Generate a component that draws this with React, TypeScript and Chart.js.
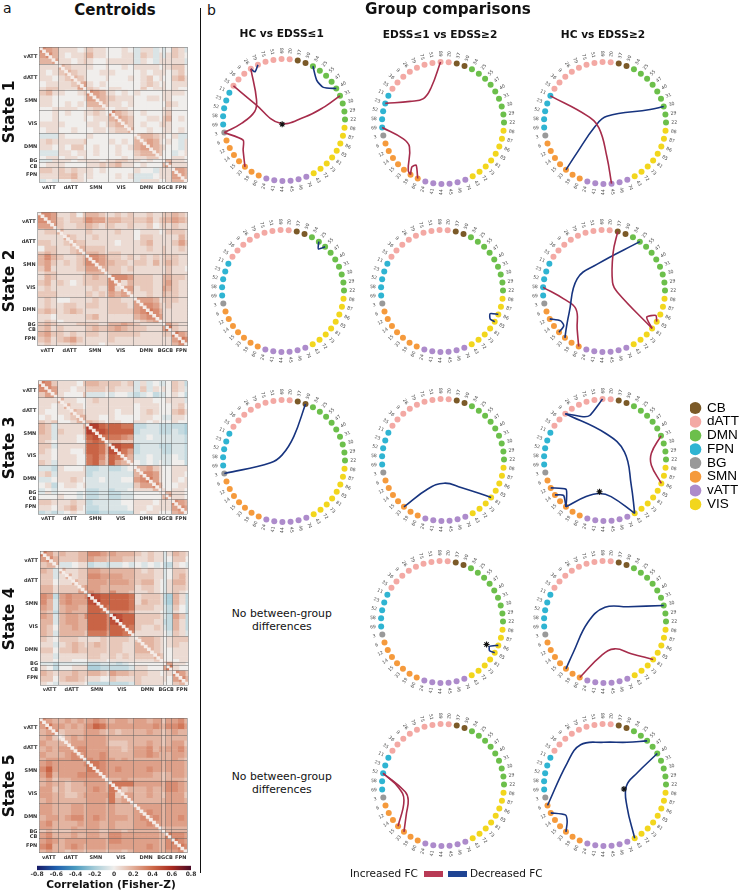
import React, { useEffect, useRef } from "react";
import { Chart, registerables } from "chart.js";

Chart.register(...registerables);

// ---------- node tables ----------
const nodeLabels = ["37","50","34","25","55","47","40","31","30","29","22","88","87","86","85","81","73","72","43","74","46","45","44","41","24","60","39","33","15","14","12","6","3","69","58","52","23","11","35","36","9","26","79","75","51","89","20"];
const nodeNets = ["CB","CB","DMN","DMN","DMN","DMN","DMN","DMN","DMN","DMN","DMN","VIS","VIS","VIS","VIS","VIS","VIS","VIS","VIS","vATT","vATT","vATT","vATT","vATT","vATT","SMN","SMN","SMN","SMN","SMN","SMN","SMN","BG","FPN","FPN","FPN","FPN","FPN","dATT","dATT","dATT","dATT","dATT","dATT","dATT","dATT","dATT"];
const legendNames = ["CB","dATT","DMN","FPN","BG","SMN","vATT","VIS"];
const legendColors = ["#7b5a28","#f3a9a4","#6cbf4b","#2fb4d2","#999999","#f59a3c","#ad8bcb","#f2d61d"];
const RED = "#a62c4b";
const BLUE = "#17347f";

// ---------- chords: from node, to node, waypoints in circle units (x right, y up) ----------
const r1c1 = [
  { a: 41, b: 32, k: "up", via: [[-0.45, 0.33], [-0.48, 0.14], [-0.69, -0.05]] },
  { a: 38, b: 7, k: "up", via: [[-0.48, 0.27], [-0.07, -0.05], [0.34, 0.05], [0.67, 0.22]] },
  { a: 32, b: 27, k: "up", via: [[-0.67, -0.33], [-0.67, -0.49]] },
  { a: 41, b: 42, k: "down", via: [[-0.475, 0.79]] },
  { a: 2, b: 6, k: "down", via: [[0.535, 0.655], [0.645, 0.535]] },
];
const r1c2 = [
  { a: 45, b: 36, k: "up", via: [[-0.19, 0.59], [-0.32, 0.4], [-0.54, 0.355]] },
  { a: 33, b: 26, k: "up", via: [[-0.65, -0.26], [-0.55, -0.39], [-0.57, -0.78]] },
  { a: 26, b: 25, k: "up", via: [[-0.51, -0.72], [-0.44, -0.69]] },
];
const r1c3 = [
  { a: 37, b: 21, k: "up", via: [[-0.295, 0.12], [-0.1, -0.08], [0.03, -0.55]] },
  { a: 8, b: 27, k: "down", via: [[0.74, 0.22], [0.03, 0.11], [-0.16, -0.055], [-0.46, -0.49]] },
];
const r2c1 = [{ a: 3, b: 4, k: "down", via: [[0.58, 0.69]] }];
const r2c2 = [{ a: 13, b: 14, k: "down", via: [[0.79, -0.37], [0.79, -0.46]] }];
const r2c3 = [
  { a: 0, b: 15, k: "up", via: [[0.15, 0.63], [0.14, 0.14], [0.22, -0.02]] },
  { a: 15, b: 14, k: "up", via: [[0.7, -0.43], [0.85, -0.4]] },
  { a: 3, b: 27, k: "down", via: [[-0.11, 0.44], [-0.44, 0.2], [-0.57, -0.35], [-0.62, -0.62]] },
  { a: 30, b: 28, k: "down", via: [[-0.71, -0.49], [-0.66, -0.57]] },
  { a: 34, b: 25, k: "up", via: [[-0.66, -0.13], [-0.46, -0.295], [-0.44, -0.62]] },
];
const r3c1 = [{ a: 1, b: 32, k: "down", via: [[0.16, 0.4], [-0.03, 0.1], [-0.22, -0.03]] }];
const r3c2 = [{ a: 27, b: 15, k: "down", via: [[-0.25, -0.475], [0.02, -0.38], [0.295, -0.45]] }];
const r3c3 = [
  { a: 40, b: 45, k: "down", via: [[-0.36, 0.71], [-0.25, 0.73]] },
  { a: 40, b: 18, k: "down", via: [[0.02, 0.43], [0.32, 0.13], [0.43, -0.41]] },
  { a: 18, b: 27, k: "down", via: [[0.1, -0.6], [-0.09, -0.55], [-0.31, -0.6]] },
  { a: 7, b: 13, k: "up", via: [[0.76, 0.11], [0.76, -0.085]] },
  { a: 30, b: 27, k: "down", via: [[-0.64, -0.48], [-0.63, -0.63]] },
  { a: 29, b: 27, k: "down", via: [[-0.68, -0.58]] },
];
const r4c2 = [{ a: 13, b: 14, k: "down", via: [[0.78, -0.4], [0.78, -0.47]] }];
const r4c3 = [
  { a: 8, b: 27, k: "down", via: [[0.38, 0.25], [0, 0.24], [-0.28, -0.005], [-0.52, -0.5]] },
  { a: 15, b: 25, k: "up", via: [[0.43, -0.52], [0.16, -0.44], [-0.06, -0.55]] },
];
const r5c2 = [
  { a: 35, b: 28, k: "up", via: [[-0.73, -0.04], [-0.64, -0.25]] },
  { a: 35, b: 27, k: "up", via: [[-0.62, -0.11], [-0.57, -0.25], [-0.6, -0.47]] },
];
const r5c3 = [
  { a: 31, b: 4, k: "down", via: [[-0.62, 0.36], [-0.4, 0.66], [-0.02, 0.7], [0.36, 0.7]] },
  { a: 6, b: 18, k: "down", via: [[0.53, 0.2], [0.35, -0.02], [0.36, -0.35]] },
  { a: 30, b: 27, k: "down", via: [[-0.65, -0.49], [-0.62, -0.6]] },
];

// ---------- heat maps: upper triangles of coded levels, per group of nodes ----------
// vATT(3) dATT(5) SMN(4) VIS(4) DMN(5) BG(1) CB(1) FPN(3), each row starting on the diagonal
const binSizes = [2,2,2, 2,2,2,2,1, 2,2,2,1, 2,2,2,2, 2,2,2,2,1, 1, 2, 2,2,1];
const levelChars = "wxyz0123456789AB";
const levelValues = [-0.26,-0.18,-0.12,-0.06,0,0.06,0.12,0.18,0.24,0.3,0.36,0.42,0.48,0.54,0.62,0.7];

const state1 = [
  "543 11101 2110 0010 z11z0 z 0 21z",
  "53 10112 3110 0011 z21z1 z 1 210",
  "4 11012 1001 1111 z10z1 1 1 11z",
  "32111 1001 0010 11110 1 1 220",
  "3211 0011 1000 01011 1 0 120",
  "321 0001 0001 01201 0 0 231",
  "34 1010 0000 01210 1 0 111",
  "5 2100 1100 02011 1 0 100",
  "5431 1010 10000 1 1 110",
  "432 2111 00110 1 1 000",
  "32 1101 00000 0 2 100",
  "3 0110 00000 1 1 000",
  "5321 01000 1 2 000",
  "432 00110 2 3 010",
  "32 01001 2 1 000",
  "3 00100 1 1 010",
  "23321 1 0 1zz",
  "3431 0 1 0z1",
  "432 1 0 0z1",
  "32 0 0 z01",
  "2 0 0 110",
  "5 3 110",
  "4 111",
  "443",
  "43",
  "3",
];
const state2 = [
  "554 11202 3321 1212 11211 2 2 321",
  "54 21223 5442 3322 22312 3 3 432",
  "4 21122 3212 2112 11201 2 1 211",
  "31111 2111 1211 01110 1 2 221",
  "3211 1211 1111 02211 1 1 131",
  "322 1111 1011 12311 1 1 242",
  "33 2221 1111 11211 2 1 121",
  "4 3321 2211 11111 2 1 111",
  "5543 2212 12121 2 2 211",
  "543 3221 22131 2 3 211",
  "33 2212 11111 1 2 110",
  "3 2211 11111 1 2 111",
  "5554 22211 3 3 221",
  "413 22211 3 4 211",
  "44 12211 4 3 211",
  "3 11211 3 2 211",
  "44431 2 2 211",
  "5542 1 2 111",
  "653 1 1 111",
  "54 1 1 111",
  "3 1 1 111",
  "6 4 211",
  "6 211",
  "643",
  "65",
  "3",
];
const state3 = [
  "652 11102 3322 2212 z1z0z z 0 21y",
  "54 11011 2221 2111 z2z10 1 0 21z",
  "4 10002 zzz0 z00z yz0yz z 0 10y",
  "31100 1211 1111 11100 0 1 11z",
  "3110 1111 1111 01110 0 0 120",
  "321 1111 1011 01210 0 0 231",
  "33 1100 1000 01100 z z 110",
  "4 3210 1100 11010 0 0 100",
  "9976 7766 yyzzy y y yyx",
  "887 7777 yzzzy y y zyx",
  "66 6654 zz0zz z z zzy",
  "4 3322 zzzzz z z zzy",
  "8877 yzzzy y y zzy",
  "864 yzzzz y y zzy",
  "53 zz0zz z z 0zy",
  "3 0z0z0 z z 00y",
  "33421 0 0 111",
  "5541 0 0 110",
  "641 0 0 101",
  "53 0 0 011",
  "3 1 0 110",
  "5 3 110",
  "4 110",
  "543",
  "54",
  "3",
];
const state4 = [
  "642 32233 5543 4333 21211 z 1 321",
  "53 22233 4332 3322 11211 z 0 220",
  "3 zz011 yzzy zz0z 0z0z0 y y 10z",
  "31122 4433 3333 21211 z 0 221",
  "3122 5544 4433 22211 z 0 231",
  "322 4443 4443 23310 z 1 331",
  "34 4433 3333 12210 z 1 221",
  "5 5433 5332 11210 z 1 210",
  "9877 7776 12221 y x 31y",
  "977 7776 13221 y x 31y",
  "76 7776 22211 z y 20y",
  "5 5554 11110 z y 10y",
  "9877 22221 z y 42y",
  "977 22211 y y 31y",
  "76 21121 z y 31y",
  "5 11111 0 z 21z",
  "23321 0 1 222",
  "3321 0 1 211",
  "321 0 0 111",
  "32 0 0 111",
  "2 0 0 011",
  "6 4 110",
  "6 100",
  "542",
  "53",
  "3",
];
const state5 = [
  "543 34343 4543 3443 44344 2 4 453",
  "64 43434 5764 4444 44454 3 5 564",
  "5 23334 4432 3233 33433 2 3 433",
  "13434 4443 3333 33333 2 3 333",
  "3444 4443 2223 33433 2 3 442",
  "455 4444 3323 44534 3 4 453",
  "45 4454 3333 44543 3 3 443",
  "5 5454 4343 33333 3 3 432",
  "6654 4444 44444 3 4 443",
  "654 4544 44544 3 4 443",
  "54 4444 44433 2 3 443",
  "4 3343 33333 2 3 332",
  "6666 44444 3 5 543",
  "523 33433 3 5 543",
  "44 33433 2 4 442",
  "4 33333 3 4 443",
  "44444 3 4 444",
  "4544 3 4 444",
  "454 3 4 454",
  "44 3 4 444",
  "3 2 3 333",
  "6 3 333",
  "6 554",
  "654",
  "65",
  "3",
];
const stateTables = [state1, state2, state3, state4, state5];

// colour bar stops
const cmapValues = [-0.8,-0.6,-0.4,-0.2,0,0.2,0.4,0.6,0.8];
const cmapColors = ["#171a66","#1f5fae","#4a9abf","#a6ccd8","#f0eeec","#e2ae99","#cd6a4a","#a82a20","#4a0a26"];
const cbTicks = [-0.8,-0.6,-0.4,-0.2,0,0.2,0.4,0.6,0.8];

// axis labels of each map: node position -> text
const xAxisNames = { 3: "vATT", 10: "dATT", 18: "SMN", 26: "VIS", 34: "DMN", 40: "BGCB", 45: "FPN" };
const yAxisNames = { 3: "vATT", 10: "dATT", 18: "SMN", 26: "VIS", 34: "DMN", 39: "BG", 41: "CB", 44: "FPN" };
const netBreaks = [0, 6, 15, 22, 30, 39, 40, 42, 47];

// ---------- layout ----------
const heatBoxes = [
  { l: 39.3, r: 187.3, t: 44.3, b: 182.3 },
  { l: 37.7, r: 187.7, t: 209, b: 345.7 },
  { l: 38.3, r: 187.3, t: 378.3, b: 514 },
  { l: 40, r: 188.3, t: 548.3, b: 685 },
  { l: 39.3, r: 187, t: 715.7, b: 852.7 },
];
const rings = [
  { cx: 284, cy: 120, chords: r1c1, stars: [[-0.03, -0.07]] },
  { cx: 443, cy: 122.7, chords: r1c2, stars: [] },
  { cx: 604.7, cy: 123.3, chords: r1c3, stars: [] },
  { cx: 283.2, cy: 290.8, chords: r2c1, stars: [] },
  { cx: 442.2, cy: 291.1, chords: r2c2, stars: [] },
  { cx: 604.3, cy: 290.8, chords: r2c3, stars: [] },
  { cx: 283.8, cy: 460.7, chords: r3c1, stars: [] },
  { cx: 442.5, cy: 460.4, chords: r3c2, stars: [] },
  { cx: 605, cy: 460.4, chords: r3c3, stars: [[-0.09, -0.52]] },
  { cx: 442.2, cy: 621.7, chords: r4c2, stars: [[0.73, -0.37]] },
  { cx: 604.7, cy: 621.6, chords: r4c3, stars: [] },
  { cx: 442.7, cy: 784.8, chords: r5c2, stars: [] },
  { cx: 604.5, cy: 785.3, chords: r5c3, stars: [[0.31, -0.065]] },
];
const RING_PX = 61;
const RING_BOX = 170;

const FONT = "'DejaVu Sans', sans-serif";

// ---------- helpers ----------
function hexToRgb(h: string) {
  return [parseInt(h.slice(1, 3), 16), parseInt(h.slice(3, 5), 16), parseInt(h.slice(5, 7), 16)];
}
function colourOf(v: number) {
  const n = cmapValues.length;
  if (v <= cmapValues[0]) return cmapColors[0];
  if (v >= cmapValues[n - 1]) return cmapColors[n - 1];
  let i = 0;
  while (v > cmapValues[i + 1]) i++;
  const t = (v - cmapValues[i]) / (cmapValues[i + 1] - cmapValues[i]);
  const a = hexToRgb(cmapColors[i]);
  const b = hexToRgb(cmapColors[i + 1]);
  return `rgb(${a.map((c, k) => Math.round(c + (b[k] - c) * t)).join(",")})`;
}
function nodeTheta(i: number) {
  return 13 + (360 / nodeLabels.length) * i;
}
function polar(i: number, r: number) {
  const t = (nodeTheta(i) * Math.PI) / 180;
  return { x: r * Math.sin(t), y: r * Math.cos(t) };
}
function binMatrix(table: string[]) {
  const n = binSizes.length;
  const m: number[][] = Array.from({ length: n }, () => new Array(n).fill(0.06));
  for (let i = 0; i < n; i++) {
    const row = (table[i] || "").replace(/ /g, "");
    for (let j = i; j < n; j++) {
      const idx = levelChars.indexOf(row[j - i] ?? "1");
      const v = levelValues[idx < 0 ? 5 : idx];
      m[i][j] = v;
      m[j][i] = v;
    }
  }
  return m;
}

function useChart(make: (c: HTMLCanvasElement) => Chart) {
  const ref = useRef<HTMLCanvasElement>(null);
  useEffect(() => {
    const ch = make(ref.current!);
    return () => ch.destroy();
  }, []);
  return ref;
}

// ---------- heat map ----------
function Heat({ index }: { index: number }) {
  const box = heatBoxes[index];
  const W = 198;
  const top = Math.floor(box.t) - 2;
  const H = Math.ceil(box.b) + 14 - top;
  const ref = useChart((canvas) => {
    const m = binMatrix(stateTables[index]);
    const total = binSizes.reduce((a, b) => a + b, 0);
    const rowBin: number[] = [];
    binSizes.forEach((s, b) => { for (let k = 0; k < s; k++) rowBin.push(b); });
    const labels = rowBin.map((_, i) => String(i));
    let start = 0;
    const datasets: any[] = binSizes.map((s, col) => {
      const x0 = start;
      start += s;
      return {
        data: rowBin.map(() => [x0, x0 + s]),
        backgroundColor: rowBin.map((b) => colourOf(m[b][col])),
        borderWidth: 0,
        grouped: false,
        barPercentage: 1,
        categoryPercentage: 1,
        order: 2,
      };
    });
    datasets.push({
      data: rowBin.map((_, i) => [i, i + 1]),
      backgroundColor: "#f5ece8",
      borderWidth: 0,
      grouped: false,
      barPercentage: 1,
      categoryPercentage: 1,
      order: 1,
    });
    const tickFont = { family: FONT, size: 5, weight: "bold" as const };
    return new Chart(canvas, {
      type: "bar",
      data: { labels, datasets },
      options: {
        indexAxis: "y",
        animation: false,
        responsive: false,
        layout: { padding: { top: box.t - top, right: W - box.r, bottom: 0, left: 0 } },
        plugins: { legend: { display: false }, tooltip: { enabled: false } },
        scales: {
          x: {
            type: "linear",
            min: 0,
            max: total,
            afterFit: (s: any) => { s.height = H - (box.b - top); },
            border: { display: false },
            grid: {
              z: 1,
              drawTicks: false,
              lineWidth: 0.8,
              color: (c: any) => (netBreaks.includes(c.tick?.value) ? "rgba(95,95,95,0.6)" : "rgba(0,0,0,0)"),
            },
            ticks: {
              stepSize: 1,
              autoSkip: false,
              maxRotation: 0,
              padding: 2,
              color: "#333",
              font: tickFont,
              callback: (v: any) => (xAxisNames as any)[v] ?? "",
            },
          },
          y: {
            type: "category",
            afterFit: (s: any) => { s.width = box.l; },
            border: { display: false },
            grid: {
              z: 1,
              drawTicks: false,
              lineWidth: 0.8,
              color: (c: any) => {
                const i = c.index === undefined ? total : c.index;
                return netBreaks.includes(i) ? "rgba(95,95,95,0.6)" : "rgba(0,0,0,0)";
              },
            },
            ticks: {
              autoSkip: false,
              padding: 2,
              color: "#333",
              font: tickFont,
              callback: (_v: any, i: number) => (yAxisNames as any)[i] ?? "",
            },
          },
        },
      },
    } as any);
  });
  return <canvas ref={ref} width={W} height={H} style={{ position: "absolute", left: 0, top, width: W, height: H }} />;
}

// ---------- ring ----------
const ringLabelPlugin = {
  id: "ringLabels",
  afterDatasetsDraw(chart: any) {
    const ds = chart.data.datasets[1];
    const meta = chart.getDatasetMeta(1);
    const ctx = chart.ctx;
    ctx.save();
    ctx.font = `4.6px ${FONT}`;
    ctx.fillStyle = "#4a4a4a";
    ctx.textAlign = "center";
    ctx.textBaseline = "middle";
    meta.data.forEach((pt: any, i: number) => {
      const theta = ((ds.data[i].theta % 360) + 360) % 360;
      const rot = theta < 180 ? theta - 90 : theta + 90;
      ctx.save();
      ctx.translate(pt.x, pt.y);
      ctx.rotate((rot * Math.PI) / 180);
      ctx.fillText(ds.data[i].label, 0, 0);
      ctx.restore();
    });
    ctx.restore();
  },
};

function Ring({ spec }: { spec: (typeof rings)[number] }) {
  const range = RING_BOX / 2 / RING_PX;
  const ref = useChart((canvas) => {
    const colorOf = (n: string) => legendColors[legendNames.indexOf(n)];
    const datasets: any[] = [
      {
        data: nodeLabels.map((_, i) => polar(i, 1)),
        backgroundColor: nodeNets.map(colorOf),
        pointRadius: 3,
        pointBorderWidth: 0,
        order: 5,
      },
      {
        data: nodeLabels.map((l, i) => ({ ...polar(i, 1.135), label: l, theta: nodeTheta(i) })),
        pointRadius: 0,
        order: 6,
      },
    ];
    (spec.chords as any[]).forEach((c) => {
      const pa = polar(c.a, 1);
      const pb = polar(c.b, 1);
      const pts = [pa, ...c.via.map(([x, y]: number[]) => ({ x, y })), pb];
      const short = Math.hypot(pa.x - pb.x, pa.y - pb.y) < 0.7;
      datasets.push({
        data: pts,
        showLine: true,
        tension: short ? 0.22 : 0.42,
        borderColor: c.k === "up" ? RED : BLUE,
        borderWidth: 1.6,
        pointRadius: 0,
        fill: false,
        order: 2,
      });
    });
    if (spec.stars.length) {
      datasets.push({
        data: spec.stars.map(([x, y]) => ({ x, y })),
        pointStyle: "star",
        pointRadius: 3,
        pointBorderColor: "#111",
        pointBorderWidth: 1.1,
        order: 1,
      });
    }
    return new Chart(canvas, {
      type: "scatter",
      data: { datasets },
      plugins: [ringLabelPlugin],
      options: {
        animation: false,
        responsive: false,
        layout: { autoPadding: false, padding: 0 },
        plugins: { legend: { display: false }, tooltip: { enabled: false } },
        scales: {
          x: { type: "linear", min: -range, max: range, display: false },
          y: { type: "linear", min: -range, max: range, display: false },
        },
      },
    } as any);
  });
  return (
    <canvas
      ref={ref}
      width={RING_BOX}
      height={RING_BOX}
      style={{ position: "absolute", left: spec.cx - RING_BOX / 2, top: spec.cy - RING_BOX / 2, width: RING_BOX, height: RING_BOX }}
    />
  );
}

// ---------- colour bar ----------
function ColorBar() {
  const ref = useChart((canvas) =>
    new Chart(canvas, {
      type: "bar",
      data: {
        labels: ["Correlation"],
        datasets: [
          {
            data: [[cmapValues[0], cmapValues[cmapValues.length - 1]]],
            barPercentage: 1,
            categoryPercentage: 1,
            borderWidth: 0,
            backgroundColor: (c: any) => {
              const a = c.chart.chartArea;
              if (!a) return "#ccc";
              const g = c.chart.ctx.createLinearGradient(a.left, 0, a.right, 0);
              cmapValues.forEach((v, i) => g.addColorStop((v - cmapValues[0]) / (cmapValues[cmapValues.length - 1] - cmapValues[0]), cmapColors[i]));
              return g;
            },
          },
        ],
      },
      options: {
        indexAxis: "y",
        animation: false,
        responsive: false,
        layout: { padding: { left: 37, right: 9, top: 3.7, bottom: 0 } },
        plugins: { legend: { display: false }, tooltip: { enabled: false } },
        scales: {
          y: { display: false },
          x: {
            type: "linear",
            min: -0.8,
            max: 0.8,
            afterBuildTicks: (s: any) => { s.ticks = cbTicks.map((value) => ({ value })); },
            afterFit: (s: any) => { s.height = 23.8; },
            border: { display: false },
            grid: { display: false, drawTicks: false },
            ticks: {
              autoSkip: false,
              maxRotation: 0,
              padding: 1,
              color: "#333",
              font: { family: FONT, size: 6, weight: "bold" },
              callback: (v: any) => (Math.abs(v) < 1e-9 ? "0" : Number(v).toFixed(1)),
            },
          },
        },
      },
    } as any)
  );
  return <canvas ref={ref} width={200} height={32} style={{ position: "absolute", left: 0, top: 862, width: 200, height: 32 }} />;
}

// ---------- network legend ----------
function NetLegend() {
  const ref = useChart((canvas) =>
    new Chart(canvas, {
      type: "scatter",
      data: { datasets: [{ data: [] }] },
      options: {
        animation: false,
        responsive: false,
        layout: { padding: 0 },
        scales: { x: { display: false }, y: { display: false } },
        plugins: {
          tooltip: { enabled: false },
          legend: {
            display: true,
            position: "left",
            align: "start",
            onClick: null,
            labels: {
              usePointStyle: true,
              boxWidth: 10,
              boxHeight: 8.6,
              padding: 0.25,
              color: "#111",
              font: { family: "'Liberation Sans', sans-serif", size: 13.5 },
              generateLabels: () =>
                legendNames.map((text, i) => ({
                  text,
                  fillStyle: legendColors[i],
                  strokeStyle: legendColors[i],
                  lineWidth: 0,
                  pointStyle: "circle",
                  hidden: false,
                  datasetIndex: 0,
                })),
            },
          },
        },
      },
    } as any)
  );
  return <canvas ref={ref} width={120} height={122} style={{ position: "absolute", left: 690, top: 401, width: 120, height: 122 }} />;
}

// ---------- text ----------
function T({ x, y, size, bold, children, center, rotate, font, color }: any) {
  return (
    <div
      style={{
        position: "absolute",
        left: x,
        top: y,
        transform: `translate(${center ? "-50%" : "0"},-50%)${rotate ? ` rotate(${rotate}deg)` : ""}`,
        fontFamily: font || FONT,
        fontSize: size,
        fontWeight: bold ? 700 : 400,
        color: color || "#111",
        whiteSpace: "nowrap",
        lineHeight: 1,
      }}
    >
      {children}
    </div>
  );
}

export default function App() {
  return (
    <div style={{ position: "absolute", left: 0, top: 0, width: 744, height: 894, background: "#fff", overflow: "hidden" }}>
      {heatBoxes.map((_, i) => <Heat key={i} index={i} />)}
      {rings.map((r, i) => <Ring key={i} spec={r} />)}
      <ColorBar />
      <NetLegend />

      <div style={{ position: "absolute", left: 199.5, top: 8, width: 1, height: 865, background: "#111" }} />

      <T x={3} y={8} size={14}>a</T>
      <T x={207} y={10} size={14}>b</T>
      <T x={115} y={10} size={15} bold center>Centroids</T>
      <T x={448} y={9.5} size={15.2} bold center>Group comparisons</T>
      <T x={281.7} y={33} size={10.6} bold center>HC vs EDSS≤1</T>
      <T x={440} y={34} size={10.6} bold center>EDSS≤1 vs EDSS≥2</T>
      <T x={603} y={34} size={10.6} bold center>HC vs EDSS≥2</T>

      <T x={10} y={112} size={15.4} bold center rotate={-90}>State 1</T>
      <T x={10} y={281} size={15.4} bold center rotate={-90}>State 2</T>
      <T x={10} y={448} size={15.4} bold center rotate={-90}>State 3</T>
      <T x={10} y={619} size={15.4} bold center rotate={-90}>State 4</T>
      <T x={10} y={786} size={15.4} bold center rotate={-90}>State 5</T>

      <T x={281.8} y={613.7} size={10.8} center>No between-group</T>
      <T x={281.8} y={627.4} size={10.8} center>differences</T>
      <T x={281.8} y={776.5} size={10.8} center>No between-group</T>
      <T x={281.8} y={790.2} size={10.8} center>differences</T>

      <T x={111} y={884.3} size={10.6} bold center>Correlation (Fisher-Z)</T>

      <T x={350} y={873.3} size={10.5}>Increased FC</T>
      <div style={{ position: "absolute", left: 424, top: 870.7, width: 19, height: 6, background: "#b83a55" }} />
      <div style={{ position: "absolute", left: 448, top: 870.7, width: 19, height: 6, background: "#1f4493" }} />
      <T x={470} y={873.3} size={10.5}>Decreased FC</T>
    </div>
  );
}
